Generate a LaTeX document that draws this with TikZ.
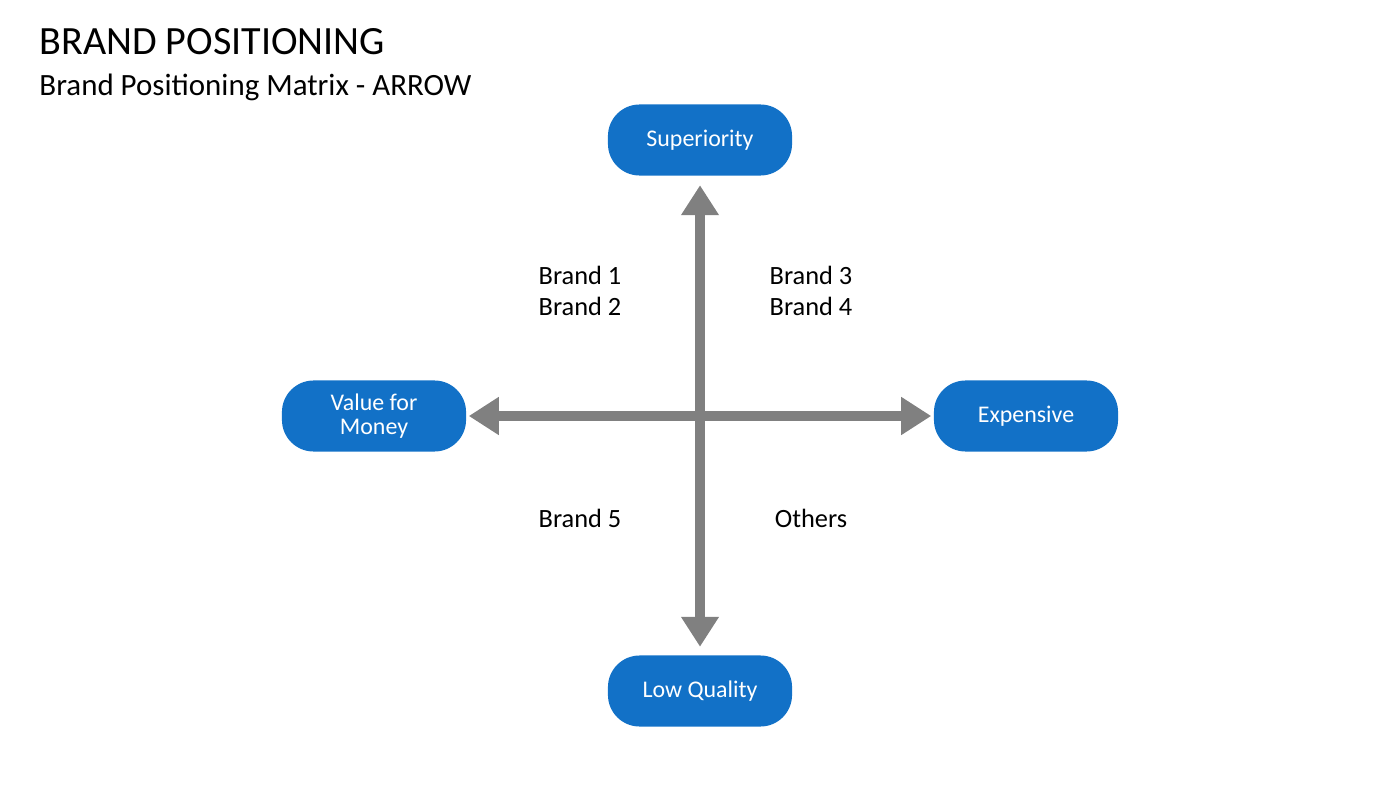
\documentclass[tikz,border=0pt]{standalone}
\usepackage{fontspec}
\setmainfont{Carlito}
\usetikzlibrary{arrows.meta}
\definecolor{boxblue}{HTML}{1271C7}
\definecolor{axisgray}{HTML}{808080}
\tikzset{
  posbox/.style={fill=boxblue, text=white, rounded corners=9pt, minimum width=1.84cm,
    minimum height=0.71cm, align=center, inner sep=0pt, font=\fontsize{6.8}{8}\selectfont},
  brand/.style={align=center, font=\fontsize{7.5}{9}\selectfont},
  axis/.style={draw=axisgray, line width=0.1cm, -{Triangle[width=0.36cm,length=0.3cm]}}
}
\begin{document}
\begin{tikzpicture}[x=0.01cm,y=-0.01cm]
\useasboundingbox (0,0) rectangle (1400,788);
\node[anchor=west, font=\fontsize{11.4}{13}\selectfont] (title) at (27,42) {BRAND POSITIONING};
\node[anchor=west, font=\fontsize{8.8}{11}\selectfont] (sub) at (27,87) {Brand Positioning Matrix - ARROW};
% quadrant ends
\node[posbox] (sup) at (700,140) {Superiority};
\node[posbox] (low) at (700,691) {Low Quality};
\node[posbox] (val) at (374,416) {Value for\\[-1pt]Money};
\node[posbox] (exp) at (1026,416) {Expensive};
\coordinate (o) at (700,416);
% axes
\draw[axis] (o) -- ([yshift=-0.09cm]sup.south);
\draw[axis] (o) -- ([yshift=0.08cm]low.north);
\draw[axis] (o) -- ([xshift=0.02cm]val.east);
\draw[axis] (o) -- ([xshift=-0.02cm]exp.west);
% brands
\node[brand] (b12) at (580,291) {Brand 1\\Brand 2};
\node[brand] (b34) at (811,291) {Brand 3\\Brand 4};
\node[brand] (b5) at (580,518) {Brand 5};
\node[brand] (oth) at (811,518) {Others};
\end{tikzpicture}
\end{document}
